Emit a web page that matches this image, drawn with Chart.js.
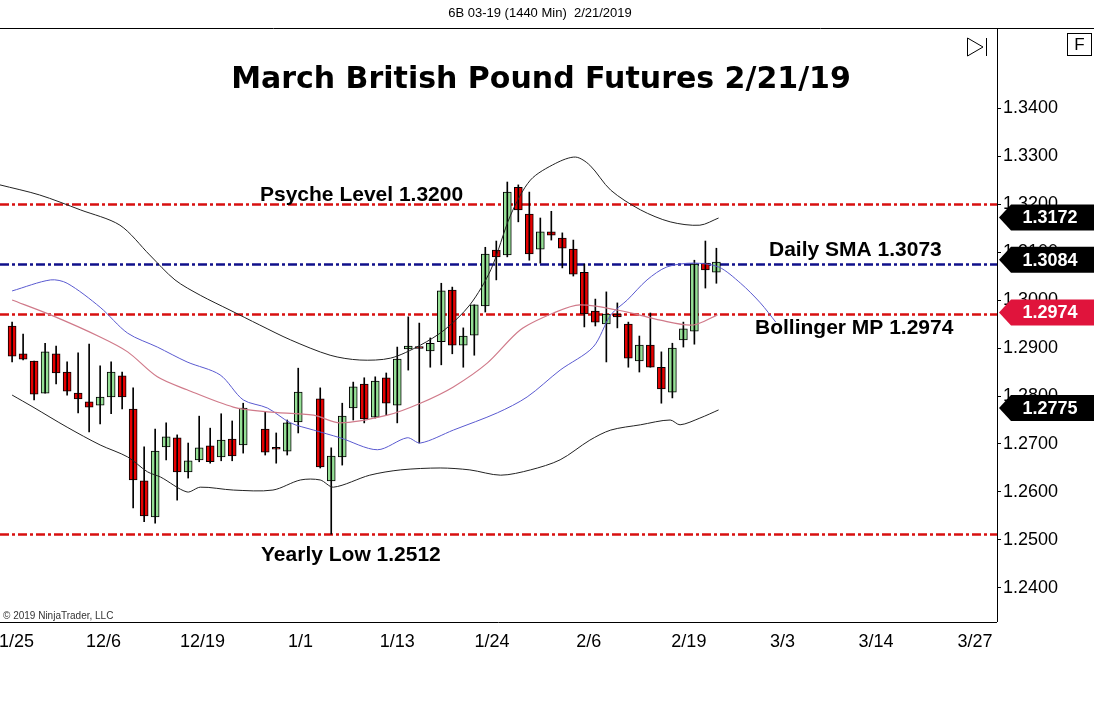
<!DOCTYPE html>
<html>
<head>
<meta charset="utf-8">
<script src="https://cdn.jsdelivr.net/npm/chart.js@4.4.1/dist/chart.umd.min.js"></script>
<style>
  html, body { margin: 0; padding: 0; background: #fff; }
  #wrap { width: 1094px; height: 710px; position: relative; }
</style>
</head>
<body>
<div id="wrap"><canvas id="futuresChart" width="1094" height="710"></canvas></div>
<script>
// daily bars, slot = trading-day position on the axis (holidays left empty)
const barSlot = [0,1,2,3,4,5,6,7,8,9,10,11,12,13,14,15,16,17,18,19,20,21,
  23,24,25,26, 28,29,30,31,32,33,34,35,36,37,38,39,40,41,42,43,44,45,46,47,48,49,50,
  51,52,53,54,55,56,57,58,59,60,61,62,63,64];
const opens  = [1.2946,1.2888,1.2873,1.2806,1.2888,1.2850,1.2806,1.2788,1.2781,1.2798,1.2842,1.2773,1.2623,1.2548,1.2694,1.2713,1.2642,1.2667,1.2696,1.2673,1.2710,1.2698,
  1.2731,1.2690,1.2685,1.2746, 1.2794,1.2623,1.2673,1.2775,1.2825,1.2756,1.2838,1.2781,1.2898,1.2900,1.2894,1.2913,1.3021,1.2906,1.2927,1.2988,1.3104,1.3094,1.3235,1.3179,1.3106,1.3142,1.3129,
  1.3106,1.3058,1.2977,1.2950,1.2971,1.2950,1.2873,1.2906,1.2860,1.2808,1.2917,1.2935,1.3077,1.3058];
const highs  = [1.2954,1.2929,1.2873,1.2910,1.2904,1.2871,1.2890,1.2908,1.2863,1.2871,1.2850,1.2817,1.2694,1.2731,1.2744,1.2719,1.2702,1.2758,1.2733,1.2763,1.2748,1.2785,
  1.2767,1.2723,1.2750,1.2858, 1.2817,1.2692,1.2785,1.2829,1.2838,1.2840,1.2848,1.2902,1.2965,1.2952,1.2921,1.3035,1.3027,1.2942,1.2990,1.3110,1.3123,1.3246,1.3240,1.3225,1.3171,1.3185,1.3140,
  1.3125,1.3075,1.3002,1.3017,1.2994,1.2954,1.2925,1.2973,1.2892,1.2910,1.2954,1.3083,1.3123,1.3108];
const lows   = [1.2871,1.2875,1.2792,1.2806,1.2825,1.2802,1.2765,1.2725,1.2742,1.2763,1.2773,1.2567,1.2538,1.2535,1.2667,1.2583,1.2629,1.2663,1.2660,1.2665,1.2665,1.2681,
  1.2677,1.2660,1.2677,1.2723, 1.2650,1.2512,1.2656,1.2750,1.2744,1.2754,1.2760,1.2744,1.2854,1.2702,1.2860,1.2865,1.2888,1.2860,1.2885,1.2975,1.3042,1.3090,1.3163,1.3083,1.3077,1.3125,1.3067,
  1.3050,1.2944,1.2946,1.2871,1.2942,1.2860,1.2850,1.2860,1.2785,1.2796,1.2902,1.2908,1.3025,1.3035];
const closes = [1.2883,1.2877,1.2804,1.2892,1.2848,1.2810,1.2794,1.2777,1.2798,1.2850,1.2798,1.2625,1.2550,1.2685,1.2715,1.2642,1.2665,1.2692,1.2663,1.2708,1.2675,1.2775,
  1.2683,1.2689,1.2744,1.2808, 1.2652,1.2675,1.2758,1.2819,1.2752,1.2831,1.2785,1.2877,1.2904,1.2899,1.2910,1.3019,1.2906,1.2925,1.2990,1.3096,1.3090,1.3225,1.3188,1.3096,1.3142,1.3135,1.3108,
  1.3054,1.2971,1.2954,1.2971,1.2965,1.2879,1.2906,1.2860,1.2815,1.2900,1.2940,1.3075,1.3063,1.3079];

// Bollinger bands and fast average, read at sparse points
const upperX = [-1.1,2.5,6.2,9.8,12.5,14.8,17.1,19.8,22.5,25.3,28.9,31.6,34.4,37.1,39.3,41.6,43.5,45.3,47.1,49.4,51.2,52.5,54.4,57.1,59.8,62.5,64.2];
const upperY = [1.3240,1.3219,1.3188,1.3156,1.3094,1.3042,1.3010,1.2979,1.2948,1.2917,1.2885,1.2875,1.2879,1.2906,1.2938,1.2990,1.3063,1.3177,1.3250,1.3285,1.3298,1.3281,1.3229,1.3188,1.3163,1.3156,1.3171];
const lowerX = [0,1.9,5,8,10.5,12.3,13.5,15.9,17.1,20.1,23.7,26.2,28,29.2,32.5,35.3,38.9,41.6,44.4,47.1,49.8,52.5,54.4,57.1,59.8,60.7,62.5,64.2];
const lowerY = [1.2802,1.2777,1.2735,1.2698,1.2673,1.2642,1.2631,1.2600,1.2610,1.2604,1.2604,1.2625,1.2625,1.2610,1.2635,1.2646,1.2650,1.2646,1.2635,1.2646,1.2667,1.2708,1.2729,1.2740,1.2750,1.2740,1.2754,1.2771];
const middleX = [0,3.5,8,10.5,13.2,15.9,20.1,23.2,27.4,29.8,34.1,37.1,40.1,43.2,46.2,49.2,51.6,55.9,58.9,61.9,64.1];
const middleY = [1.3000,1.2969,1.2923,1.2892,1.2840,1.2813,1.2777,1.2767,1.2760,1.2744,1.2760,1.2785,1.2819,1.2869,1.2938,1.2973,1.2990,1.2975,1.2958,1.2948,1.2969];
const fastX = [0,3.5,5,8,10.5,13.2,15.9,18.9,21,23.2,25.3,27.4,29.8,33.2,35.9,37.1,40.1,44.1,46.8,49.8,52.8,54.4,55.9,57.7,59.5,61.9,64.2,66.2,68,69.4];
const fastY = [1.3019,1.3042,1.3035,1.2985,1.2931,1.2902,1.2871,1.2844,1.2792,1.2775,1.2744,1.2729,1.2713,1.2688,1.2713,1.2702,1.2729,1.2765,1.2798,1.2854,1.2902,1.2969,1.3000,1.3042,1.3069,1.3077,1.3069,1.3035,1.2994,1.2954];

// reference levels
const levelValues = [1.3200, 1.3075, 1.2971, 1.2512];
const levelNames  = ['Psyche Level 1.3200', 'Daily SMA 1.3073', 'Bollinger MP 1.2974', 'Yearly Low 1.2512'];
const levelColors = ['#d81010', '#10108a', '#d81010', '#d81010'];

// price markers on the right axis
const tagValues = [1.3172, 1.3084, 1.2974, 1.2775];
const tagColors = ['#000', '#000', '#e0143c', '#000'];

// axes
const xTickPos = [0, 8.3, 17.3, 26.2, 35, 43.6, 52.4, 61.5, 70, 78.5, 87.5];
const xTickLabels = ['11/25', '12/6', '12/19', '1/1', '1/13', '1/24', '2/6', '2/19', '3/3', '3/14', '3/27'];
const yTicks = [1.24,1.25,1.26,1.27,1.28,1.29,1.30,1.31,1.32,1.33,1.34];

const pts = (xs, ys) => xs.map((x, i) => ({ x: x, y: ys[i] }));
const bodyColors = opens.map((o, i) => closes[i] > o ? '#96e096' : (closes[i] < o ? '#e60000' : '#000'));

const overlay = {
  id: 'overlay',
  beforeDatasetsDraw(chart) {
    const { ctx, chartArea: a, scales: { y } } = chart;
    ctx.save();
    ctx.lineWidth = 2.5;
    ctx.setLineDash([9, 3, 3, 3]);
    levelValues.forEach((v, i) => {
      const py = Math.round(y.getPixelForValue(v)) + 0.5;
      ctx.strokeStyle = levelColors[i];
      ctx.beginPath(); ctx.moveTo(a.left, py); ctx.lineTo(a.right, py); ctx.stroke();
    });
    ctx.restore();
  },
  afterDraw(chart) {
    const { ctx, chartArea: a, scales: { y } } = chart;
    ctx.save();
    // frame
    ctx.strokeStyle = '#000'; ctx.lineWidth = 1;
    ctx.beginPath();
    ctx.moveTo(0, 28.5); ctx.lineTo(1094, 28.5);
    ctx.moveTo(a.right + 0.5, 28); ctx.lineTo(a.right + 0.5, a.bottom);
    ctx.moveTo(0, a.bottom + 0.5); ctx.lineTo(a.right, a.bottom + 0.5);
    ctx.stroke();
    // header and title
    ctx.fillStyle = '#000';
    ctx.textAlign = 'center'; ctx.textBaseline = 'middle';
    ctx.font = '13px "Liberation Sans", Arial';
    ctx.fillText('6B 03-19 (1440 Min)  2/21/2019', 540, 13);
    ctx.font = 'bold 30px "DejaVu Sans"';
    ctx.fillText('March British Pound Futures 2/21/19', 541, 80);
    // level labels
    ctx.font = 'bold 21px "Liberation Sans", Arial';
    ctx.textAlign = 'left';
    const lx = [260, 769, 755, 261];
    const dy = [-9, -14, 14, 21];
    levelValues.forEach((v, i) => {
      ctx.fillText(levelNames[i], lx[i], y.getPixelForValue(v) + dy[i]);
    });
    // copyright
    ctx.font = '10px "Liberation Sans", Arial';
    ctx.fillStyle = '#333';
    ctx.fillText('\u00a9 2019 NinjaTrader, LLC', 3, 616);
    // F box and play icon
    ctx.strokeStyle = '#000'; ctx.fillStyle = '#000';
    ctx.strokeRect(1067.5, 33.5, 24, 22);
    ctx.font = '17px "Liberation Sans", Arial';
    ctx.textAlign = 'center';
    ctx.fillText('F', 1079.5, 45);
    ctx.beginPath(); ctx.moveTo(967.5, 38); ctx.lineTo(983, 47); ctx.lineTo(967.5, 56); ctx.closePath(); ctx.stroke();
    ctx.beginPath(); ctx.moveTo(986.5, 38); ctx.lineTo(986.5, 56); ctx.stroke();
    // price tags
    ctx.font = 'bold 18px "Liberation Sans", Arial';
    tagValues.forEach((v, i) => {
      const py = y.getPixelForValue(v);
      ctx.fillStyle = tagColors[i];
      ctx.beginPath();
      ctx.moveTo(999, py); ctx.lineTo(1011, py - 13); ctx.lineTo(1094, py - 13);
      ctx.lineTo(1094, py + 13); ctx.lineTo(1011, py + 13); ctx.closePath(); ctx.fill();
      ctx.fillStyle = '#fff';
      ctx.fillText(v.toFixed(4), 1050, py + 1);
    });
    ctx.restore();
  }
};

const ctx = document.getElementById('futuresChart').getContext('2d');
new Chart(ctx, {
  data: {
    datasets: [
      { type: 'line', data: pts(upperX, upperY), borderColor: '#222', borderWidth: 1, pointRadius: 0, tension: 0.3 },
      { type: 'line', data: pts(lowerX, lowerY), borderColor: '#222', borderWidth: 1, pointRadius: 0, tension: 0.3 },
      { type: 'line', data: pts(middleX, middleY), borderColor: '#d07a8a', borderWidth: 1.2, pointRadius: 0, tension: 0.3 },
      { type: 'line', data: pts(fastX, fastY), borderColor: '#5a5ad0', borderWidth: 1, pointRadius: 0, tension: 0.3 },
      { type: 'bar', data: barSlot.map((s, i) => ({ x: s, y: [lows[i], highs[i]] })),
        backgroundColor: '#000', barThickness: 1, grouped: false },
      { type: 'bar', data: barSlot.map((s, i) => ({ x: s, y: [opens[i], closes[i]] })),
        backgroundColor: bodyColors, borderColor: '#000', borderWidth: 1, borderSkipped: false,
        barThickness: 8, minBarLength: 2, grouped: false }
    ]
  },
  options: {
    responsive: false,
    animation: false,
    devicePixelRatio: 1,
    layout: { padding: { top: 28, left: 0, right: 0, bottom: 0 } },
    plugins: { legend: { display: false }, tooltip: { enabled: false } },
    scales: {
      x: {
        type: 'linear', min: -1.1, max: 89.5, offset: false,
        grid: { display: false },
        border: { display: false },
        afterBuildTicks: s => { s.ticks = xTickPos.map(v => ({ value: v })); },
        afterFit: s => { s.height = 88; s.paddingLeft = 0; s.paddingRight = 0; },
        ticks: {
          autoSkip: false, maxRotation: 0, padding: 1, color: '#000',
          font: { family: '"Liberation Sans", Arial', size: 18 },
          callback: (v, i) => xTickLabels[i]
        }
      },
      y: {
        position: 'right', min: 1.2329, max: 1.3567,
        grid: { drawOnChartArea: false, tickLength: 4, color: '#000' },
        border: { display: false },
        afterBuildTicks: s => { s.ticks = yTicks.map(v => ({ value: v })); },
        afterFit: s => { s.width = 97; },
        ticks: {
          color: '#000', padding: 2,
          font: { family: '"Liberation Sans", Arial', size: 18 },
          callback: v => v.toFixed(4)
        }
      }
    }
  },
  plugins: [overlay]
});
</script>
</body>
</html>
